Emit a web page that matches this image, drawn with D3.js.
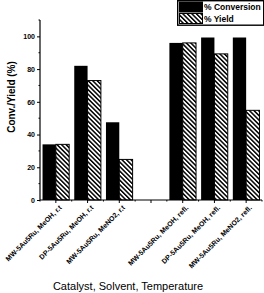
<!DOCTYPE html>
<html>
<head>
<meta charset="utf-8">
<script src="https://cdn.jsdelivr.net/npm/d3@7"></script>
<style>
  body { margin: 0; background: #fff; }
  text { font-family: "Liberation Sans", Arial, sans-serif; fill: #000; }
</style>
</head>
<body>
<div id="chart"></div>
<script>
// chart data
var categories = ["MW-5Au5Ru, MeOH, r.t", "DP-5Au5Ru, MeOH, r.t", "MW-5Au5Ru, MeNO2, r.t", "",
                  "MW-5Au5Ru, MeOH, refl.", "DP-5Au5Ru, MeOH, refl.", "MW-5Au5Ru, MeNO2, refl."];
var conversion = [34, 82, 47.5, null, 96, 99.3, 99.3];
var yieldVals  = [34, 73, 24.8, null, 96, 89.3, 54.8];
var yTicks = [0, 20, 40, 60, 80, 100];
var seriesNames = ["% Conversion", "% Yield"];

var width = 264, height = 293;
var margin = { top: 20, right: 2, bottom: 93, left: 40 };

var svg = d3.select("#chart").append("svg")
    .attr("width", width)
    .attr("height", height);

// hatch pattern for yield bars (lines running top-left to bottom-right)
var defs = svg.append("defs");
defs.append("pattern")
    .attr("id", "hatch")
    .attr("patternUnits", "userSpaceOnUse")
    .attr("width", 3.2).attr("height", 3.2)
    .attr("patternTransform", "rotate(-45)")
  .append("rect")
    .attr("x", 0).attr("y", 0)
    .attr("width", 1.5).attr("height", 3.2)
    .attr("fill", "#000");

var x = d3.scaleBand()
    .domain(d3.range(categories.length))
    .range([margin.left, width - margin.right])
    .paddingInner(0.16).paddingOuter(0.08);

var sub = d3.scaleBand()
    .domain([0, 1])
    .range([0, x.bandwidth()]);

var y = d3.scaleLinear()
    .domain([0, 110])
    .range([height - margin.bottom, margin.top]);

// bars
var groups = svg.selectAll(".grp")
    .data(categories.map(function(c, i) { return { i: i, conv: conversion[i], yld: yieldVals[i] }; }))
    .enter().append("g")
    .attr("class", "grp")
    .attr("transform", function(d) { return "translate(" + x(d.i) + ",0)"; });

groups.filter(function(d) { return d.conv != null; }).append("rect")
    .attr("x", sub(0)).attr("width", sub.bandwidth())
    .attr("y", function(d) { return y(d.conv); })
    .attr("height", function(d) { return y(0) - y(d.conv); })
    .attr("fill", "#000");

groups.filter(function(d) { return d.yld != null; }).append("rect")
    .attr("x", sub(1)).attr("width", sub.bandwidth())
    .attr("y", function(d) { return y(d.yld); })
    .attr("height", function(d) { return y(0) - y(d.yld); })
    .attr("fill", "url(#hatch)")
    .attr("stroke", "#000").attr("stroke-width", 1);

// y axis
var yAxis = svg.append("g")
    .attr("transform", "translate(" + margin.left + ",0)")
    .call(d3.axisLeft(y).tickValues(yTicks).tickSize(3).tickPadding(2));
yAxis.select(".domain").attr("d", "M0," + y(0) + "V" + y(110)).attr("stroke-width", 1.2);
yAxis.selectAll("text").style("font-size", "7px").style("font-weight", "bold");
svg.append("g")
    .attr("transform", "translate(" + margin.left + ",0)")
    .selectAll("line").data([10, 30, 50, 70, 90, 110]).enter().append("line")
    .attr("x1", -1.5).attr("x2", 0)
    .attr("y1", function(d) { return y(d); }).attr("y2", function(d) { return y(d); })
    .attr("stroke", "#000");

// x axis
var xAxis = svg.append("g")
    .attr("transform", "translate(0," + y(0) + ")")
    .call(d3.axisBottom(x).tickSize(3).tickPadding(3)
        .tickFormat(function(i) { return categories[i]; }));
xAxis.select(".domain").attr("d", "M" + margin.left + ",0H" + (width - margin.right)).attr("stroke-width", 1.2);
xAxis.selectAll("text")
    .style("font-size", "7px")
    .style("font-weight", "bold")
    .style("text-anchor", "end")
    .attr("dx", "-0.2em").attr("dy", "0.6em")
    .attr("transform", "rotate(-45)");
svg.append("g")
    .attr("transform", "translate(0," + y(0) + ")")
    .selectAll("line").data(d3.range(categories.length + 1)).enter().append("line")
    .attr("x1", function(i) { return x(0) - x.step() * x.paddingInner() / 2 + i * x.step(); })
    .attr("x2", function(i) { return x(0) - x.step() * x.paddingInner() / 2 + i * x.step(); })
    .attr("y1", 0).attr("y2", 1.5)
    .attr("stroke", "#000");

// axis titles
svg.append("text")
    .attr("x", 128).attr("y", 290)
    .attr("text-anchor", "middle")
    .style("font-size", "11px")
    .text("Catalyst, Solvent, Temperature");

svg.append("text")
    .attr("transform", "translate(15,97) rotate(-90)")
    .attr("text-anchor", "middle")
    .style("font-size", "10px")
    .style("font-weight", "bold")
    .text("Conv./Yield (%)");

// legend
var legend = svg.append("g").attr("transform", "translate(177,0)");
legend.append("rect")
    .attr("x", 0.7).attr("y", 0.7).attr("width", 86).attr("height", 24.5)
    .attr("fill", "#fff").attr("stroke", "#000").attr("stroke-width", 1.4);
legend.append("rect")
    .attr("x", 2).attr("y", 1.5).attr("width", 24).attr("height", 11)
    .attr("fill", "#000");
legend.append("rect")
    .attr("x", 2.5).attr("y", 13.5).attr("width", 23).attr("height", 10)
    .attr("fill", "url(#hatch)").attr("stroke", "#000");
legend.selectAll(".lt").data(seriesNames).enter().append("text")
    .attr("class", "lt")
    .attr("x", 27).attr("y", function(d, i) { return 10 + i * 11.5; })
    .style("font-size", "8.5px")
    .style("font-weight", "bold")
    .text(function(d) { return d; });
</script>
</body>
</html>
